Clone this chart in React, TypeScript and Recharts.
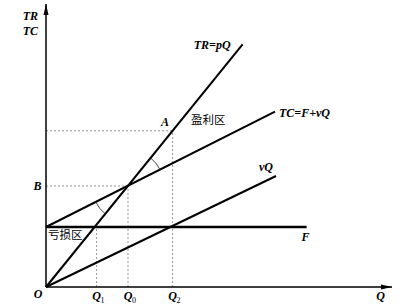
import { ComposedChart, Line, XAxis, YAxis, ReferenceLine, ReferenceDot } from 'recharts';

// break-even chart (1 unit ~ 20px on both axes)
const revenue = [{ q: 0, y: 0 }, { q: 9.83, y: 12.13 }];
const totalCost = [{ q: 0, y: 3 }, { q: 11.45, y: 8.77 }];
const variableCost = [{ q: 0, y: 0 }, { q: 11.5, y: 5.55 }];
const fixedCost = [{ q: 0, y: 3 }, { q: 13.03, y: 3 }];

const qTicks = [0, 2.53, 4.1, 6.33];
const qSubs = ['', '1', '0', '2'];
const yTicks = [5.05];

const breakEven = { q: 4.1, y: 5.05 };
const pointA = { q: 6.33, y: 7.81 };

const Q_MAX = 17.3;
const Y_MAX = 14.15;

const serif = {
    fontFamily: '"Liberation Serif", "Times New Roman", serif',
    fontStyle: 'italic',
    fontWeight: 700,
    fontSize: 12,
};
const cjk = { fontFamily: '"Noto Sans CJK SC", sans-serif', fontSize: 11.5 };

const note = (text: string, dx: number, dy: number, anchor = 'start', style: any = serif) =>
    (p: any) => (
        <text x={p.cx + dx} y={p.cy + dy} textAnchor={anchor} fill='#000' {...style}>
            {text}
        </text>
    );

const QTick = (props: any) => {
    const { x, y, payload } = props;
    const i = qTicks.indexOf(payload.value);
    if (i === 0) {
        return (
            <text x={x - 8} y={y + 10.5} textAnchor='middle' fill='#000' {...serif}>O</text>
        );
    }
    return (
        <g>
            <text x={x} y={y + 13} textAnchor='middle' fill='#000' {...serif}>Q</text>
            <text x={x + 4} y={y + 16} fill='#000' fontFamily='"Liberation Serif", serif' fontSize={8}>
                {qSubs[i]}
            </text>
        </g>
    );
};

const BTick = (props: any) => {
    const { x, y } = props;
    return (
        <text x={x - 4.5} y={y + 4} textAnchor='end' fill='#000' {...serif}>B</text>
    );
};

const angleOf = (line: { q: number; y: number }[]) =>
    Math.atan2(line[1].y - line[0].y, line[1].q - line[0].q);

const arc = (cx: number, cy: number, r: number, a1: number, a2: number) =>
    `M${cx + r * Math.cos(a1)},${cy - r * Math.sin(a1)} A${r},${r} 0 0 0 ${cx + r * Math.cos(a2)},${cy - r * Math.sin(a2)}`;

const Angles = (p: any) => {
    const a1 = angleOf(totalCost);
    const a2 = angleOf(revenue);
    return (
        <g fill='none' stroke='#333' strokeWidth={0.9}>
            <path d={arc(p.cx, p.cy, 36, a1, a2)} />
            <path d={arc(p.cx, p.cy, 36, a1 + Math.PI, a2 + Math.PI)} />
        </g>
    );
};

const XArrow = (p: any) => (
    <polygon points={`${p.cx},${p.cy} ${p.cx - 11},${p.cy - 2.5} ${p.cx - 11},${p.cy + 2.5}`} fill='#000' />
);
const YArrow = (p: any) => (
    <polygon points={`${p.cx},${p.cy} ${p.cx - 2.5},${p.cy + 11} ${p.cx + 2.5},${p.cy + 11}`} fill='#000' />
);

const dash = { stroke: '#777', strokeDasharray: '2 2', strokeWidth: 0.8 };

export default function App() {
    return (
        <div style={{ position: 'absolute', left: 0, top: 0, background: '#fff' }}>
            <ComposedChart width={412} height={307} margin={{ top: 4, right: 20, bottom: 0, left: 0 }}>
                <XAxis
                    dataKey='q'
                    type='number'
                    domain={[0, Q_MAX]}
                    ticks={qTicks}
                    interval={0}
                    tick={<QTick />}
                    tickLine={false}
                    tickSize={0}
                    tickMargin={0}
                    height={20}
                    axisLine={{ stroke: '#000', strokeWidth: 1.5 }}
                />
                <YAxis
                    type='number'
                    domain={[0, Y_MAX]}
                    ticks={yTicks}
                    interval={0}
                    tick={<BTick />}
                    tickLine={false}
                    tickSize={0}
                    tickMargin={0}
                    width={46}
                    axisLine={{ stroke: '#000', strokeWidth: 1.5 }}
                />

                <ReferenceLine segment={[{ x: 0, y: breakEven.y }, { x: breakEven.q, y: breakEven.y }]} {...dash} />
                <ReferenceLine segment={[{ x: breakEven.q, y: 0 }, { x: breakEven.q, y: breakEven.y }]} {...dash} />
                <ReferenceLine segment={[{ x: qTicks[1], y: 0 }, { x: qTicks[1], y: fixedCost[0].y }]} {...dash} />
                <ReferenceLine segment={[{ x: 0, y: pointA.y }, { x: pointA.q, y: pointA.y }]} {...dash} />
                <ReferenceLine segment={[{ x: pointA.q, y: 0 }, { x: pointA.q, y: pointA.y }]} {...dash} />

                <Line data={fixedCost} dataKey='y' type='linear' stroke='#000' strokeWidth={2.4} dot={false} isAnimationActive={false} />
                <Line data={variableCost} dataKey='y' type='linear' stroke='#000' strokeWidth={2} dot={false} isAnimationActive={false} />
                <Line data={totalCost} dataKey='y' type='linear' stroke='#000' strokeWidth={2} dot={false} isAnimationActive={false} />
                <Line data={revenue} dataKey='y' type='linear' stroke='#000' strokeWidth={2} dot={false} isAnimationActive={false} />

                <ReferenceDot x={breakEven.q} y={breakEven.y} ifOverflow='visible' shape={Angles} />
                <ReferenceDot x={Q_MAX} y={0} ifOverflow='visible' shape={XArrow} />
                <ReferenceDot x={0} y={Y_MAX} ifOverflow='visible' shape={YArrow} />

                <ReferenceDot x={revenue[1].q} y={revenue[1].y} ifOverflow='visible' shape={note('TR=pQ', -12, 5, 'end')} />
                <ReferenceDot x={totalCost[1].q} y={totalCost[1].y} ifOverflow='visible' shape={note('TC=F+vQ', 4, 5)} />
                <ReferenceDot x={variableCost[1].q} y={variableCost[1].y} ifOverflow='visible' shape={note('vQ', -3, -5, 'end')} />
                <ReferenceDot x={fixedCost[1].q} y={fixedCost[1].y} ifOverflow='visible' shape={note('F', -5, 13.5)} />
                <ReferenceDot x={pointA.q} y={pointA.y} ifOverflow='visible' shape={note('A', -3.5, -4.5, 'end')} />
                <ReferenceDot x={pointA.q} y={pointA.y} ifOverflow='visible' shape={note('盈利区', 18.5, -7, 'start', cjk)} />
                <ReferenceDot x={fixedCost[0].q} y={fixedCost[0].y} ifOverflow='visible' shape={note('亏损区', 2, 12, 'start', cjk)} />
                <ReferenceDot x={Q_MAX} y={0} ifOverflow='visible' shape={note('Q', -11.5, 13, 'middle')} />
                <ReferenceDot x={0} y={Y_MAX} ifOverflow='visible' shape={note('TR', -8, 16, 'end')} />
                <ReferenceDot x={0} y={Y_MAX} ifOverflow='visible' shape={note('TC', -8, 31, 'end')} />
            </ComposedChart>
        </div>
    );
}
